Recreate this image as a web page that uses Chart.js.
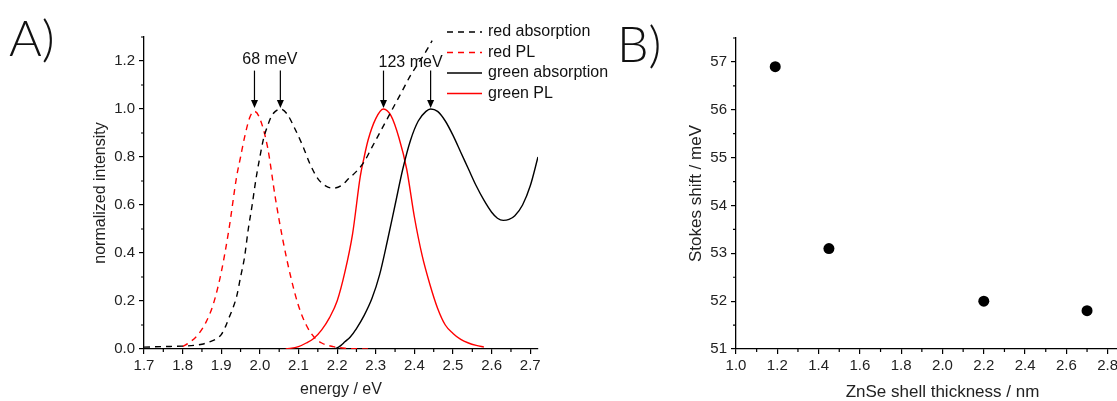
<!DOCTYPE html>
<html>
<head>
<meta charset="utf-8">
<script src="https://cdn.jsdelivr.net/npm/chart.js@4.4.1/dist/chart.umd.min.js"></script>
<style>
  html, body { margin: 0; padding: 0; background: #fff; overflow: hidden; }
  #wrap { position: relative; width: 1117px; height: 401px; overflow: hidden; }
  .panel-label { position: absolute; font: 300 50px 'Lato', 'Open Sans', sans-serif; color: #111; line-height: 1; }
  #chartA { position: absolute; left: 0; top: 0; }
  #chartB { position: absolute; left: 600px; top: 0; }
</style>
</head>
<body>
<div id="wrap">
  <canvas id="chartA" width="640" height="410"></canvas>
  <canvas id="chartB" width="600" height="410"></canvas>
  <div class="panel-label" style="left:9px;top:12px">A)</div>
  <div class="panel-label" style="left:617px;top:18px">B)</div>
</div>
<script>
// Stokes shift figure - panel A spectra, panel B shift vs shell thickness

const FONT = "'Liberation Sans', Arial, sans-serif";

// Panel A tick labels
const energyTicks = [1.7, 1.8, 1.9, 2.0, 2.1, 2.2, 2.3, 2.4, 2.5, 2.6, 2.7];
const intensityTicks = [0, 0.2, 0.4, 0.6, 0.8, 1.0, 1.2];

// red absorption (black dashed)
const redAbsEnergy = [1.70, 1.75, 1.80, 1.83, 1.85, 1.87, 1.89, 1.90, 1.91, 1.92, 1.93, 1.94, 1.95, 1.96, 1.97, 1.98, 1.99, 2.00, 2.01, 2.02, 2.03, 2.04, 2.053, 2.07, 2.09, 2.11, 2.13, 2.15, 2.17, 2.19, 2.21, 2.23, 2.25, 2.27, 2.29, 2.31, 2.33, 2.35, 2.37, 2.39, 2.41, 2.43, 2.446];
const redAbsIntensity = [0.008, 0.010, 0.012, 0.015, 0.02, 0.03, 0.045, 0.06, 0.09, 0.13, 0.17, 0.22, 0.30, 0.38, 0.50, 0.60, 0.71, 0.80, 0.88, 0.93, 0.97, 0.99, 1.00, 0.98, 0.92, 0.85, 0.77, 0.71, 0.68, 0.67, 0.68, 0.71, 0.74, 0.78, 0.84, 0.90, 0.96, 1.02, 1.08, 1.14, 1.19, 1.24, 1.285];

// red PL (red dashed)
const redPlEnergy = [1.80, 1.82, 1.84, 1.86, 1.88, 1.90, 1.92, 1.94, 1.95, 1.96, 1.975, 1.986, 2.00, 2.02, 2.04, 2.06, 2.08, 2.10, 2.12, 2.14, 2.16, 2.19, 2.22, 2.28];
const redPlIntensity = [0.01, 0.03, 0.06, 0.11, 0.19, 0.32, 0.50, 0.72, 0.80, 0.88, 0.97, 0.99, 0.96, 0.84, 0.63, 0.45, 0.30, 0.18, 0.10, 0.05, 0.025, 0.01, 0.003, 0.0];

// green absorption (black solid)
const greenAbsEnergy = [2.187, 2.20, 2.21, 2.22, 2.234, 2.25, 2.27, 2.29, 2.31, 2.33, 2.35, 2.37, 2.39, 2.41, 2.43, 2.442, 2.46, 2.48, 2.50, 2.52, 2.54, 2.56, 2.58, 2.60, 2.615, 2.63, 2.645, 2.66, 2.68, 2.70, 2.72];
const greenAbsIntensity = [0.0, 0.005, 0.015, 0.03, 0.05, 0.085, 0.14, 0.21, 0.31, 0.45, 0.60, 0.75, 0.87, 0.95, 0.99, 1.0, 0.99, 0.95, 0.89, 0.82, 0.75, 0.68, 0.62, 0.57, 0.545, 0.536, 0.54, 0.555, 0.60, 0.68, 0.80];

// green PL (red solid)
const greenPlEnergy = [2.067, 2.10, 2.12, 2.14, 2.16, 2.18, 2.20, 2.22, 2.24, 2.26, 2.27, 2.28, 2.30, 2.32, 2.34, 2.36, 2.38, 2.40, 2.42, 2.44, 2.46, 2.48, 2.50, 2.52, 2.54, 2.56, 2.58];
const greenPlIntensity = [0.0, 0.01, 0.025, 0.045, 0.08, 0.13, 0.20, 0.32, 0.48, 0.72, 0.80, 0.87, 0.96, 1.00, 0.97, 0.88, 0.75, 0.55, 0.39, 0.27, 0.17, 0.10, 0.065, 0.04, 0.025, 0.015, 0.008];

// Stokes shift markers: peak energies (PL, absorption pairs)
const peakEnergies = [1.986, 2.053, 2.32, 2.442];
const shiftLabels = ['68 meV', '123 meV'];
const shiftLabelEnergy = [2.026, 2.39];
const shiftLabelLevel = [1.205, 1.195];

// Panel B
const shellThickness = [1.19, 1.45, 2.2, 2.7];
const stokesShift = [56.9, 53.1, 52.0, 51.8];
const thicknessTicks = [1.0, 1.2, 1.4, 1.6, 1.8, 2.0, 2.2, 2.4, 2.6, 2.8, 3.0];
const shiftTicks = [51, 52, 53, 54, 55, 56, 57];

function toPoints(xs, ys) {
  return xs.map((x, i) => ({ x: x, y: ys[i] }));
}

// Minor ticks halfway between the major ones (Origin style)
const minorTicks = {
  id: 'minorTicks',
  afterDraw(chart) {
    const ctx = chart.ctx;
    const { left, bottom } = chart.chartArea;
    ctx.save();
    ctx.strokeStyle = '#000';
    ctx.lineWidth = 1.2;
    ctx.beginPath();
    ['x', 'y'].forEach(id => {
      const scale = chart.scales[id];
      const majors = scale.ticks.map(t => t.value);
      for (let i = 0; i < majors.length; i++) {
        const next = i + 1 < majors.length ? majors[i + 1] : majors[i] * 2 - majors[i - 1];
        const v = (majors[i] + next) / 2;
        if (v > scale.max + 1e-9) continue;
        const p = scale.getPixelForValue(v);
        if (id === 'x') {
          ctx.moveTo(p, bottom);
          ctx.lineTo(p, bottom + 3);
        } else {
          ctx.moveTo(left, p);
          ctx.lineTo(left - 3, p);
        }
      }
    });
    ctx.stroke();
    ctx.restore();
  }
};

// Legend drawn inside panel A, top right
const insetLegend = {
  id: 'insetLegend',
  afterDraw(chart, args, opts) {
    if (!opts.show) return;
    const ctx = chart.ctx;
    ctx.save();
    ctx.font = '16px ' + FONT;
    ctx.textBaseline = 'middle';
    chart.data.datasets.forEach((ds, i) => {
      const y = opts.top + i * opts.rowGap;
      ctx.strokeStyle = ds.borderColor;
      ctx.lineWidth = ds.borderWidth;
      ctx.setLineDash(ds.borderDash || []);
      ctx.beginPath();
      ctx.moveTo(opts.left, y);
      ctx.lineTo(opts.left + opts.lineLen, y);
      ctx.stroke();
      ctx.setLineDash([]);
      ctx.fillStyle = '#111';
      ctx.fillText(ds.label, opts.left + opts.lineLen + 6, y);
    });
    ctx.restore();
  }
};

// Arrows pointing at peaks, with shift labels
const shiftArrows = {
  id: 'shiftArrows',
  afterDatasetsDraw(chart, args, opts) {
    if (!opts.show) return;
    const ctx = chart.ctx;
    const xs = chart.scales.x;
    const ys = chart.scales.y;
    ctx.save();
    ctx.strokeStyle = '#000';
    ctx.fillStyle = '#000';
    ctx.lineWidth = 1.2;
    peakEnergies.forEach(e => {
      const px = xs.getPixelForValue(e);
      const y0 = ys.getPixelForValue(1.16);
      const y1 = ys.getPixelForValue(1.0) - 1;
      ctx.beginPath();
      ctx.moveTo(px, y0);
      ctx.lineTo(px, y1 - 7);
      ctx.stroke();
      ctx.beginPath();
      ctx.moveTo(px - 3.5, y1 - 8);
      ctx.lineTo(px + 3.5, y1 - 8);
      ctx.lineTo(px, y1);
      ctx.closePath();
      ctx.fill();
    });
    ctx.font = '16px ' + FONT;
    ctx.textAlign = 'center';
    ctx.textBaseline = 'middle';
    ctx.fillStyle = '#111';
    shiftLabels.forEach((txt, i) => {
      ctx.fillText(txt, xs.getPixelForValue(shiftLabelEnergy[i]), ys.getPixelForValue(shiftLabelLevel[i]));
    });
    ctx.restore();
  }
};

function axisStyle(extra) {
  return Object.assign({
    type: 'linear',
    grid: { display: true, drawOnChartArea: false, drawTicks: true, tickLength: 5, color: '#000', lineWidth: 1.2 },
    border: { display: true, color: '#000', width: 1.3 },
  }, extra);
}

const tickFont = { family: FONT, size: 15 };

new Chart(document.getElementById('chartA'), {
  type: 'line',
  data: {
    datasets: [
      { label: 'red absorption', data: toPoints(redAbsEnergy, redAbsIntensity), borderColor: '#000000', borderDash: [6, 5], borderWidth: 1.4 },
      { label: 'red PL', data: toPoints(redPlEnergy, redPlIntensity), borderColor: '#ff0000', borderDash: [6, 5], borderWidth: 1.4 },
      { label: 'green absorption', data: toPoints(greenAbsEnergy, greenAbsIntensity), borderColor: '#000000', borderWidth: 1.4 },
      { label: 'green PL', data: toPoints(greenPlEnergy, greenPlIntensity), borderColor: '#ff0000', borderWidth: 1.4 },
    ],
  },
  options: {
    responsive: false,
    animation: false,
    elements: {
      point: { radius: 0 },
      line: { cubicInterpolationMode: 'monotone', fill: false },
    },
    layout: { padding: { left: 0, top: 37, right: 102, bottom: 0 } },
    plugins: {
      legend: { display: false },
      tooltip: { enabled: false },
      insetLegend: { show: true, left: 447, top: 32, rowGap: 20.5, lineLen: 35 },
      shiftArrows: { show: true },
    },
    scales: {
      x: axisStyle({
        min: 1.7,
        max: 2.72,
        afterBuildTicks: s => { s.ticks = energyTicks.map(v => ({ value: v })); },
        afterFit: s => { s.height = 61; },
        ticks: { color: '#222', font: tickFont, padding: 3, maxRotation: 0, autoSkip: false, callback: v => v.toFixed(1) },
        title: { display: true, text: 'energy / eV', color: '#222', font: { family: FONT, size: 16 }, padding: { top: 0, bottom: 11 } },
      }),
      y: axisStyle({
        min: 0,
        max: 1.3,
        afterBuildTicks: s => { s.ticks = intensityTicks.map(v => ({ value: v })); },
        afterFit: s => { s.width = 144; },
        ticks: { color: '#222', font: tickFont, padding: 4, callback: v => v.toFixed(1) },
        title: { display: true, text: 'normalized intensity', color: '#222', font: { family: FONT, size: 16 }, padding: { top: 91, bottom: 0 } },
      }),
    },
  },
  plugins: [minorTicks, insetLegend, shiftArrows],
});

new Chart(document.getElementById('chartB'), {
  type: 'scatter',
  data: {
    datasets: [
      { label: 'Stokes shift', data: toPoints(shellThickness, stokesShift), backgroundColor: '#000', borderWidth: 0, pointRadius: 5.5 },
    ],
  },
  options: {
    responsive: false,
    animation: false,
    layout: { padding: { left: 0, top: 38, right: 51, bottom: 0 } },
    plugins: {
      legend: { display: false },
      tooltip: { enabled: false },
    },
    scales: {
      x: axisStyle({
        min: 1.0,
        max: 3.0,
        afterBuildTicks: s => { s.ticks = thicknessTicks.map(v => ({ value: v })); },
        afterFit: s => { s.height = 61; },
        ticks: { color: '#222', font: tickFont, padding: 3, maxRotation: 0, autoSkip: false, callback: v => v.toFixed(1) },
        title: { display: true, text: 'ZnSe shell thickness / nm', color: '#222', font: { family: FONT, size: 17 }, padding: { top: 0, bottom: 7 } },
      }),
      y: axisStyle({
        min: 51,
        max: 57.5,
        afterBuildTicks: s => { s.ticks = shiftTicks.map(v => ({ value: v })); },
        afterFit: s => { s.width = 136; },
        ticks: { color: '#222', font: tickFont, padding: 4, callback: v => String(v) },
        title: { display: true, text: 'Stokes shift / meV', color: '#222', font: { family: FONT, size: 17 }, padding: { top: 86, bottom: 0 } },
      }),
    },
  },
  plugins: [minorTicks],
});
</script>
</body>
</html>
